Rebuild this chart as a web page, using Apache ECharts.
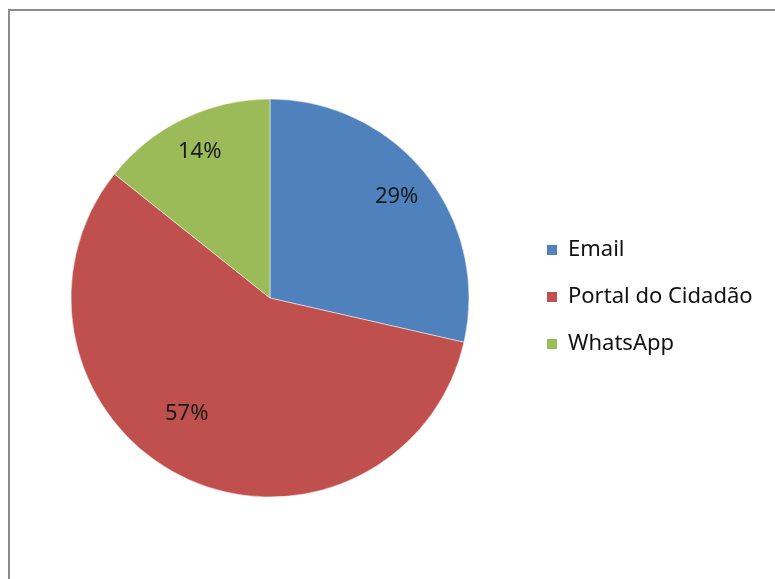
<!DOCTYPE html>
<html>
<head>
<meta charset="utf-8">
<script src="https://cdn.jsdelivr.net/npm/echarts@6/dist/echarts.min.js"></script>
<style>
  html, body { margin: 0; padding: 0; background: #fff; }
  #chart { width: 775px; height: 579px; }
</style>
</head>
<body>
<div id="chart"></div>
<script>
var canais = ['Email', 'Portal do Cidadão', 'WhatsApp'];
var valores = [2, 4, 1];
var cores = ['#4F81BD', '#C0504D', '#9BBB59'];

var chart = echarts.init(document.getElementById('chart'));

var dadosPie = canais.map(function (nome, i) {
  return { name: nome, value: valores[i], itemStyle: { color: cores[i] } };
});
// serie so para os rotulos (fica mais longe do centro, como no Excel)
var dadosRotulo = canais.map(function (nome, i) {
  var item = { name: nome, value: valores[i] };
  if (i == 1) {
    item.label = { offset: [-13, -30] };
  }
  return item;
});

var option = {
  animation: false,
  backgroundColor: '#fff',
  graphic: [{
    type: 'rect',
    shape: { x: 9, y: 10, width: 800, height: 600 },
    style: { fill: 'none', stroke: '#8c8c8c', lineWidth: 2 },
    silent: true
  }],
  legend: {
    orient: 'vertical',
    left: 545,
    top: 238,
    padding: 0,
    icon: 'rect',
    itemWidth: 12,
    itemHeight: 12,
    itemGap: 23,
    selectedMode: false,
    data: canais,
    textStyle: {
      fontFamily: 'Noto Sans',
      fontSize: 22,
      lineHeight: 24,
      padding: [0, 0, 0, 5],
      color: '#111'
    }
  },
  series: [{
    name: 'canais',
    type: 'pie',
    center: [270, 298],
    radius: [0, 199],
    startAngle: 90,
    clockwise: true,
    silent: true,
    label: { show: false },
    labelLine: { show: false },
    itemStyle: { borderColor: '#fff', borderWidth: 0.5 },
    data: dadosPie
  }, {
    name: 'rotulos',
    type: 'pie',
    center: [270, 298],
    radius: [0, 318],
    startAngle: 90,
    clockwise: true,
    silent: true,
    percentPrecision: 0,
    itemStyle: { color: 'rgba(0,0,0,0)' },
    labelLine: { show: false },
    label: {
      show: true,
      position: 'inside',
      formatter: '{d}%',
      fontFamily: 'Noto Sans',
      fontSize: 22,
      color: '#1a1a1a'
    },
    data: dadosRotulo
  }]
};
chart.setOption(option);
</script>
</body>
</html>
